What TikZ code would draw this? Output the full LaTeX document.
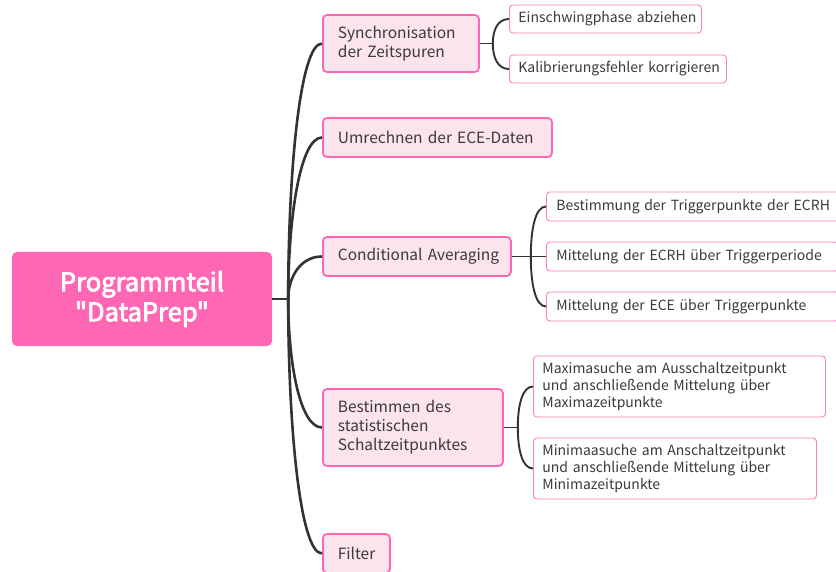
\documentclass[tikz,border=0pt]{standalone}
\usepackage{fontspec}
\setmainfont{Noto Sans CJK SC}[Ligatures=TeXOff]
\newfontfamily\rootfont{Noto Sans CJK SC}[Ligatures=TeXOff,FakeBold=3]
\usetikzlibrary{calc}
\definecolor{rootpink}{HTML}{FF66B3}
\definecolor{lightpink}{HTML}{FCE4EC}
\definecolor{txt}{HTML}{3A3A3A}
\definecolor{linec}{HTML}{333333}
\begin{document}
\begin{tikzpicture}[x=1pt,y=-1pt,
  rootbox/.style={fill=rootpink,draw=none,rounded corners=5pt,text=white,
    font=\rootfont\fontsize{25.5}{30}\selectfont,align=center,minimum width=260pt,minimum height=94pt,inner sep=0pt},
  lone/.style={fill=lightpink,draw=rootpink,line width=1.8pt,rounded corners=4pt,text=txt,
    font=\fontsize{15.5}{19}\selectfont,align=left,anchor=west,inner xsep=15pt,inner ysep=0pt},
  ltwo/.style={fill=white,draw=rootpink!85,line width=0.9pt,rounded corners=3.5pt,text=txt,
    font=\fontsize{14}{17}\selectfont,align=left,anchor=west,inner xsep=9pt,inner ysep=0pt},
  trunk/.style={draw=linec,line width=2.6pt},
  twig/.style={draw=linec,line width=1.9pt}]
\useasboundingbox (0,0) rectangle (836,572);

\node[rootbox] (root) at (142,299) {Programmteil\\"DataPrep"};

\node[lone,text width=126pt,minimum height=57pt] (sync) at (322,43.5) {\mbox{Synchronisation}\\\mbox{der Zeitspuren}};
\node[lone,text width=199pt,minimum height=39pt] (umr) at (322,137.5) {\mbox{Umrechnen der ECE-Daten}};
\node[lone,text width=158pt,minimum height=39pt] (cond) at (322,256.5) {\mbox{Conditional Averaging}};
\node[lone,text width=150pt,minimum height=77pt] (best) at (322,427.5) {\mbox{Bestimmen des}\\\mbox{statistischen}\\\mbox{Schaltzeitpunktes}};
\node[lone,text width=37pt,minimum height=39pt] (filt) at (322,553.5) {\mbox{Filter}};

\node[ltwo,text width=174pt,minimum height=28pt] (ein) at (509,19) {\mbox{Einschwingphase abziehen}};
\node[ltwo,text width=199pt,minimum height=28pt] (kal) at (509,69) {\mbox{Kalibrierungsfehler korrigieren}};
\node[ltwo,text width=282pt,minimum height=29pt,inner xsep=10pt] (trig) at (546,206.5) {\mbox{Bestimmung der Triggerpunkte der ECRH}};
\node[ltwo,text width=272pt,minimum height=29pt,inner xsep=10pt] (ecrh) at (546,256.5) {\mbox{Mittelung der ECRH über Triggerperiode}};
\node[ltwo,text width=272pt,minimum height=29pt,inner xsep=10pt] (ece) at (546,306.5) {\mbox{Mittelung der ECE über Triggerpunkte}};
\node[ltwo,text width=274pt,minimum height=61pt] (maxi) at (533,386.5) {\mbox{Maximasuche am Ausschaltzeitpunkt}\\\mbox{und anschließende Mittelung über}\\\mbox{Maximazeitpunkte}};
\node[ltwo,text width=265pt,minimum height=61pt] (mini) at (533,468.5) {\mbox{Minimaasuche am Anschaltzeitpunkt}\\\mbox{und anschließende Mittelung über}\\\mbox{Minimazeitpunkte}};

% junctions
\coordinate (j0) at ([xshift=16pt]root.east);
\coordinate (j1) at ([xshift=13pt]sync.east);
\coordinate (j3) at ([xshift=19pt]cond.east);
\coordinate (j4) at ([xshift=14pt]best.east);

\draw[trunk] (root.east) -- (j0);
\foreach \c in {sync,umr,cond,best,filt}{
  \draw[trunk] (j0) .. controls ($(j0)!0.5!(j0|-\c.west)$) and ($(j0|-\c.west)!0.35!(\c.west)$) .. (\c.west);
}

\draw[twig] (sync.east) -- (j1);
\foreach \c in {ein,kal}{
  \draw[twig] (j1) .. controls ($(j1)!0.55!(j1|-\c.west)$) and ($(j1|-\c.west)!0.3!(\c.west)$) .. (\c.west);
}

\draw[twig] (cond.east) -- (j3);
\foreach \c in {trig,ece}{
  \draw[twig] (j3) .. controls ($(j3)!0.55!(j3|-\c.west)$) and ($(j3|-\c.west)!0.3!(\c.west)$) .. (\c.west);
}
\draw[twig] (j3) -- (ecrh.west);

\draw[twig] (best.east) -- (j4);
\foreach \c in {maxi,mini}{
  \draw[twig] (j4) .. controls ($(j4)!0.55!(j4|-\c.west)$) and ($(j4|-\c.west)!0.3!(\c.west)$) .. (\c.west);
}
\end{tikzpicture}
\end{document}
